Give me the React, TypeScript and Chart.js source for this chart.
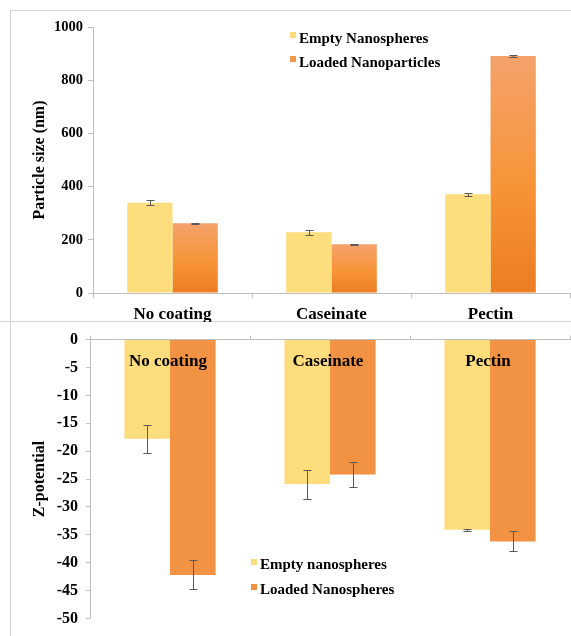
import React, { useEffect, useRef } from 'react';
import { Chart, registerables } from 'chart.js';

Chart.register(...registerables);

const FONT = "'Liberation Serif', 'Times New Roman', Times, serif";

// ---- data ----
const categories = ['No coating', 'Caseinate', 'Pectin'];

const sizeSeriesNames = ['Empty Nanospheres', 'Loaded Nanoparticles'];
const sizeEmpty = [339, 228, 371];
const sizeEmptyErr = [9, 9, 5];
const sizeLoaded = [262, 183, 891];
const sizeLoadedErr = [2, 1.5, 2];
const sizeAxis = { min: 0, max: 1000, step: 200 };

const zetaSeriesNames = ['Empty nanospheres', 'Loaded Nanospheres'];
const zetaEmpty = [-17.8, -25.9, -34.1];
const zetaEmptyErr = [2.5, 2.6, 0.15];
const zetaLoaded = [-42.2, -24.2, -36.2];
const zetaLoadedErr = [2.6, 2.2, 1.8];
const zetaAxis = { min: -50, max: 0, step: 5 };

// ---- styles ----
const YELLOW = '#FEDD7C';
const ORANGE_FLAT = '#F29343';
const AXIS_GRAY = '#BFBFBF';
const FRAME_GRAY = '#D3D3D3';

const errorBars = {
  id: 'errorBars',
  afterDatasetsDraw(chart: any) {
    const { ctx } = chart;
    const ys = chart.scales.y;
    chart.data.datasets.forEach((ds: any, di: number) => {
      const errs = ds.errors as number[] | undefined;
      if (!errs) return;
      const meta = chart.getDatasetMeta(di);
      meta.data.forEach((el: any, i: number) => {
        const v = ds.data[i] as number;
        const e = errs[i];
        const x = Math.round(el.x) + 0.5;
        const y1 = Math.round(ys.getPixelForValue(v + e)) + 0.5;
        const y2 = Math.round(ys.getPixelForValue(v - e)) + 0.5;
        ctx.save();
        ctx.strokeStyle = '#595959';
        ctx.lineWidth = 1;
        ctx.beginPath();
        ctx.moveTo(x, y1);
        ctx.lineTo(x, y2);
        ctx.moveTo(x - 4, y1);
        ctx.lineTo(x + 4, y1);
        ctx.moveTo(x - 4, y2);
        ctx.lineTo(x + 4, y2);
        ctx.stroke();
        ctx.restore();
      });
    });
  },
};

const boxLegend = {
  id: 'boxLegend',
  afterDraw(chart: any, _args: any, opts: any) {
    const { ctx } = chart;
    ctx.save();
    ctx.font = `bold 15px ${FONT}`;
    ctx.textBaseline = 'alphabetic';
    ctx.textAlign = 'left';
    chart.data.datasets.forEach((ds: any, i: number) => {
      const base = opts.y + i * opts.gap;
      ctx.fillStyle = opts.colors[i];
      ctx.fillRect(opts.x, base - opts.boxRise, 6, 6);
      ctx.fillStyle = '#000';
      ctx.fillText(ds.label, opts.x + 9, base);
    });
    ctx.restore();
  },
};

const innerLabels = {
  id: 'innerLabels',
  afterDatasetsDraw(chart: any, _args: any, opts: any) {
    if (!opts || !opts.show) return;
    const { ctx } = chart;
    const xs = chart.scales.x;
    ctx.save();
    ctx.font = `bold 17px ${FONT}`;
    ctx.textAlign = 'center';
    ctx.textBaseline = 'alphabetic';
    ctx.fillStyle = '#000';
    (chart.data.labels as string[]).forEach((l, i) => {
      ctx.fillText(l, xs.getPixelForValue(i) - 2, chart.chartArea.top + opts.dy);
    });
    ctx.restore();
  },
};

function loadedGradient(c: any) {
  const chart = c.chart;
  if (!chart.chartArea || c.type !== 'data') return '#F39A4C';
  const ys = chart.scales.y;
  const top = ys.getPixelForValue(c.raw as number);
  const base = ys.getPixelForValue(0);
  if (!isFinite(top) || !isFinite(base) || Math.abs(base - top) < 1) return '#F39A4C';
  const g = chart.ctx.createLinearGradient(0, top, 0, base);
  g.addColorStop(0, '#F4A26C');
  g.addColorStop(0.55, '#F79437');
  g.addColorStop(1, '#EC7D22');
  return g;
}

function SizeChart() {
  const ref = useRef<HTMLCanvasElement>(null);
  useEffect(() => {
    const chart = new Chart(ref.current!, {
      type: 'bar',
      data: {
        labels: categories,
        datasets: [
          {
            label: sizeSeriesNames[0],
            data: sizeEmpty,
            errors: sizeEmptyErr,
            backgroundColor: YELLOW,
            borderWidth: 0,
          } as any,
          {
            label: sizeSeriesNames[1],
            data: sizeLoaded,
            errors: sizeLoadedErr,
            backgroundColor: loadedGradient,
            borderWidth: 0,
          } as any,
        ],
      },
      options: {
        responsive: false,
        animation: false,
        layout: { padding: { top: 27, right: 1, bottom: 0, left: 10 } },
        datasets: { bar: { categoryPercentage: 0.57, barPercentage: 1.0 } },
        plugins: {
          legend: { display: false },
          tooltip: { enabled: false },
          boxLegend: { x: 290, y: 43, gap: 24, boxRise: 11, colors: [YELLOW, '#F3974A'] },
        } as any,
        scales: {
          x: {
            grid: { display: true, drawOnChartArea: false, drawTicks: true, tickLength: 5, color: AXIS_GRAY },
            border: { display: true, color: AXIS_GRAY, width: 1 },
            ticks: { font: { family: FONT, size: 17, weight: 'bold' }, color: '#000', padding: 6, maxRotation: 0 },
            afterFit: (s: any) => { s.height = 29; },
          },
          y: {
            min: sizeAxis.min,
            max: sizeAxis.max,
            grid: { display: true, drawOnChartArea: false, drawTicks: true, tickLength: 5, color: AXIS_GRAY },
            border: { display: true, color: AXIS_GRAY, width: 1 },
            ticks: {
              stepSize: sizeAxis.step,
              font: { family: FONT, size: 14.5, weight: 'bold' },
              color: '#000',
              padding: 5,
              callback: (v: any) => String(v),
            },
            title: {
              display: true,
              text: 'Particle size (nm)',
              font: { family: FONT, size: 16, weight: 'bold' },
              color: '#000',
              padding: { top: 20, bottom: 0 },
            },
            afterFit: (s: any) => { s.width = 83; },
          },
        },
      } as any,
      plugins: [errorBars, boxLegend, innerLabels],
    });
    return () => chart.destroy();
  }, []);
  return <canvas ref={ref} width={571} height={322} style={{ position: 'absolute', left: 0, top: 0, display: 'block' }} />;
}

function ZetaChart() {
  const ref = useRef<HTMLCanvasElement>(null);
  useEffect(() => {
    const chart = new Chart(ref.current!, {
      type: 'bar',
      data: {
        labels: categories,
        datasets: [
          {
            label: zetaSeriesNames[0],
            data: zetaEmpty,
            errors: zetaEmptyErr,
            backgroundColor: YELLOW,
            borderWidth: 0,
          } as any,
          {
            label: zetaSeriesNames[1],
            data: zetaLoaded,
            errors: zetaLoadedErr,
            backgroundColor: ORANGE_FLAT,
            borderWidth: 0,
          } as any,
        ],
      },
      options: {
        responsive: false,
        animation: false,
        layout: { padding: { top: 12, right: 1, bottom: 10, left: 10 } },
        datasets: { bar: { categoryPercentage: 0.57, barPercentage: 1.0 } },
        plugins: {
          legend: { display: false },
          tooltip: { enabled: false },
          boxLegend: { x: 251, y: 247, gap: 25, boxRise: 10, colors: [YELLOW, ORANGE_FLAT] },
          innerLabels: { show: true, dy: 26 },
        } as any,
        scales: {
          x: {
            position: 'top',
            grid: { display: true, drawOnChartArea: false, drawTicks: true, tickLength: 4, color: AXIS_GRAY },
            border: { display: true, color: AXIS_GRAY, width: 1 },
            ticks: { display: false },
            afterFit: (s: any) => { s.height = 4; },
          },
          y: {
            min: zetaAxis.min,
            max: zetaAxis.max,
            grid: { display: true, drawOnChartArea: false, drawTicks: true, tickLength: 4, color: AXIS_GRAY },
            border: { display: true, color: AXIS_GRAY, width: 1 },
            ticks: {
              stepSize: zetaAxis.step,
              font: { family: FONT, size: 16, weight: 'bold' },
              color: '#000',
              padding: 8,
              callback: (v: any) => String(v),
            },
            title: {
              display: true,
              text: 'Z-potential',
              font: { family: FONT, size: 16, weight: 'bold' },
              color: '#000',
              padding: { top: 20, bottom: 0 },
            },
            afterFit: (s: any) => { s.width = 80; },
          },
        },
      } as any,
      plugins: [errorBars, boxLegend, innerLabels],
    });
    return () => chart.destroy();
  }, []);
  return <canvas ref={ref} width={571} height={314} style={{ position: 'absolute', left: 0, top: 322, display: 'block' }} />;
}

export default function App() {
  return (
    <div style={{ position: 'fixed', left: 0, top: 0, width: 571, height: 636, background: '#fff', overflow: 'hidden' }}>
      <div style={{ position: 'absolute', left: 10, top: 10, width: 561, height: 1, background: FRAME_GRAY }} />
      <div style={{ position: 'absolute', left: 10, top: 10, width: 1, height: 626, background: FRAME_GRAY }} />
      <div style={{ position: 'absolute', left: 0, top: 321, width: 571, height: 1, background: FRAME_GRAY }} />
      <SizeChart />
      <ZetaChart />
    </div>
  );
}
